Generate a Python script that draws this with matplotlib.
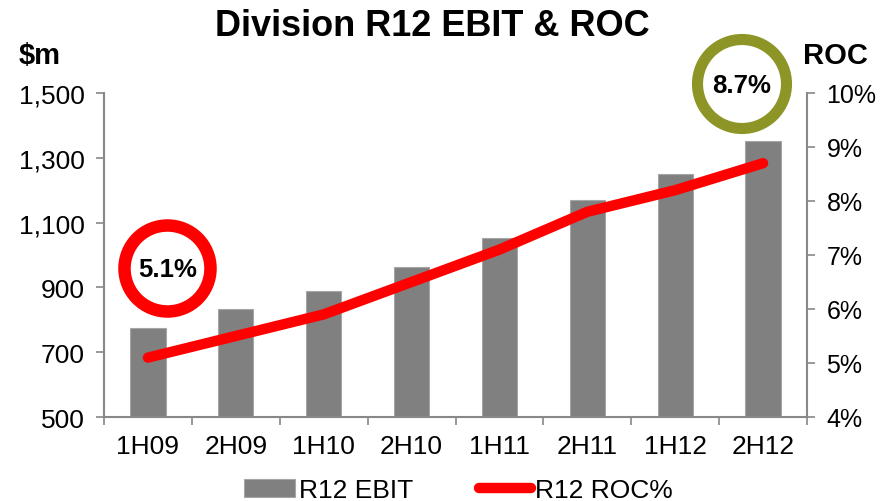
import matplotlib.pyplot as plt
from matplotlib.patches import Circle
from matplotlib.ticker import FuncFormatter, FixedLocator

plt.rcParams['font.family'] = ['Liberation Sans', 'DejaVu Sans']

periods = ["1H09", "2H09", "1H10", "2H10", "1H11", "2H11", "1H12", "2H12"]
ebit = [776, 833, 888, 964, 1053, 1170, 1250, 1352]
roc = [5.1, 5.5, 5.9, 6.5, 7.1, 7.8, 8.2, 8.7]

GREY = "#808080"
AXIS = "#888888"
RED = "#FF0000"
OLIVE = "#8C9526"

fig = plt.figure(figsize=(8.96, 5.02), dpi=100)
ax = fig.add_axes([104 / 896, 1 - 418 / 502, 703 / 896, 324 / 502])

x = list(range(len(periods)))
bars = ax.bar(x, ebit, width=0.4, color=GREY, edgecolor="#A6A6A6",
              linewidth=0.8, label="R12 EBIT", zorder=2)
ax.set_xlim(-0.5, len(periods) - 0.5)
ax.set_ylim(500, 1500)
ax.set_yticks([500, 700, 900, 1100, 1300, 1500])
ax.yaxis.set_major_formatter(FuncFormatter(lambda v, p: f"{v:,.0f}"))
ax.set_xticks(x)
ax.set_xticklabels(periods)
ax.xaxis.set_minor_locator(FixedLocator([i - 0.5 for i in range(len(periods) + 1)]))
ax.tick_params(axis="x", which="major", length=0, labelsize=19, pad=12)
ax.tick_params(axis="x", which="minor", length=6, color=AXIS, width=1.2)
ax.tick_params(axis="y", length=6, color=AXIS, width=1.2, labelsize=19, pad=8)
for s in ["top", "right"]:
    ax.spines[s].set_visible(False)
for s in ["left", "bottom"]:
    ax.spines[s].set_color(AXIS)
    ax.spines[s].set_linewidth(1.5)

ax2 = ax.twinx()
line, = ax2.plot(x, roc, color=RED, linewidth=7.5, solid_capstyle="round",
                 solid_joinstyle="round", label="R12 ROC%", zorder=3)
ax2.set_ylim(4, 10)
ax2.set_yticks([4, 5, 6, 7, 8, 9, 10])
ax2.yaxis.set_major_formatter(FuncFormatter(lambda v, p: f"{v:.0f}%"))
ax2.tick_params(axis="y", length=6, color=AXIS, width=1.2, labelsize=18, pad=8)
for s in ["top", "left", "bottom"]:
    ax2.spines[s].set_visible(False)
ax2.spines["right"].set_color(AXIS)
ax2.spines["right"].set_linewidth(1.5)

# titles
fig.text(432 / 896, 1 - 27 / 502, "Division R12 EBIT & ROC", ha="center",
         va="center", fontsize=26, fontweight="bold")
fig.text(40 / 896, 1 - 56 / 502, "$m", ha="center", va="center",
         fontsize=21, fontweight="bold")
fig.text(835 / 896, 1 - 56 / 502, "ROC", ha="center", va="center",
         fontsize=21, fontweight="bold")

# highlight circles
fig.add_artist(Circle((167.5 / 100, (502 - 269.5) / 100), 0.43,
                      transform=fig.dpi_scale_trans, fill=False,
                      edgecolor=RED, linewidth=9))
fig.text(167.5 / 896, 1 - 270 / 502, f"{roc[0]}%", ha="center", va="center",
         fontsize=18.5, fontweight="bold")
fig.add_artist(Circle((742 / 100, (502 - 85) / 100), 0.445,
                      transform=fig.dpi_scale_trans, fill=False,
                      edgecolor=OLIVE, linewidth=8))
fig.text(742 / 896, 1 - 86 / 502, f"{roc[-1]}%", ha="center", va="center",
         fontsize=18.5, fontweight="bold")

fig.legend([bars, line], ["R12 EBIT", "R12 ROC%"], loc="center",
           bbox_to_anchor=(458 / 896, 1 - 491 / 502), ncol=2, frameon=False,
           fontsize=19, handlelength=1.95, handletextpad=0.15,
           columnspacing=2.5, borderpad=0)

fig.savefig("out.png", dpi=100)
